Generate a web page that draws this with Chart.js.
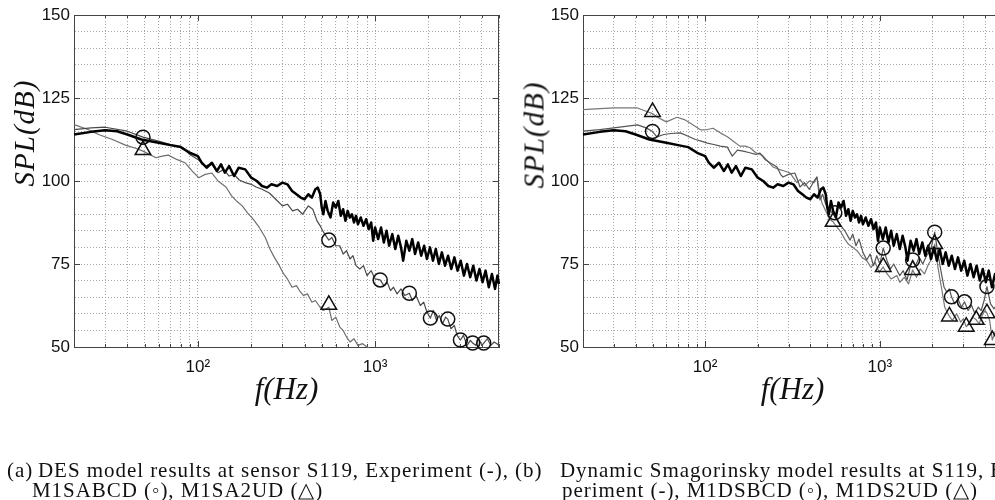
<!DOCTYPE html>
<html lang="en">
<head>
<meta charset="UTF-8">
<title>SPL spectra at sensor S119</title>
<script src="https://cdn.jsdelivr.net/npm/chart.js"></script>
<style>
    body { margin: 0; background: #fff; }
    #page { position: relative; width: 995px; height: 500px; overflow: hidden; background: #fff; }
    canvas { position: absolute; top: 0; }
    .ytitle {
        position: absolute;
        font-family: "Liberation Serif", serif;
        font-style: italic;
        font-size: 29px;
        letter-spacing: 1px;
        color: #111;
        white-space: nowrap;
        transform: translate(-50%, -50%) rotate(-90deg);
    }
    .cap {
        position: absolute;
        font-family: "Liberation Serif", serif;
        font-size: 21px;
        line-height: 20px;
        letter-spacing: 0.95px;
        color: #111;
        white-space: nowrap;
    }
</style>
</head>
<body>
<div id="page">
    <canvas id="chartA" width="510" height="420" style="left:0"></canvas>
    <canvas id="chartB" width="520" height="420" style="left:505px"></canvas>

    <div class="ytitle" style="left:24px; top:133px">SPL(dB)</div>
    <div class="ytitle" style="left:534px; top:135px">SPL(dB)</div>

    <div class="cap" style="left:7px; top:460px">(a)</div>
    <div class="cap" style="left:38px; top:460px">DES model results at sensor S119, Experiment (-),</div>
    <div class="cap" style="left:32px; top:480px">M1SABCD (◦), M1SA2UD (△)</div>

    <div class="cap" style="left:515px; top:460px">(b)</div>
    <div class="cap" style="left:560px; top:460px">Dynamic Smagorinsky model results at S119, Ex-</div>
    <div class="cap" style="right:17px; top:480px">periment (-), M1DSBCD (◦), M1DS2UD (△)</div>
</div>

<script>
    // axis ticks
    var xGridFreqs = [20, 30, 40, 50, 60, 70, 80, 90, 100, 200, 300, 400, 500, 600, 700, 800, 900, 1000, 2000, 3000, 4000, 5000];
    var xLabels = { 100: '10²', 1000: '10³' };
    var yLabelValues = [50, 75, 100, 125, 150];

    // [frequency Hz, SPL dB]
    var experiment = [
        [20, 114.0], [25, 114.8], [30, 115.3], [35, 115.0], [40, 114.0], [48, 112.5], [60, 111.5], [70, 110.8],
        [80, 110.2], [90, 108.5], [100, 107.5], [105, 105.5], [112, 104.0], [120, 105.5], [128, 103.0], [135, 105.0],
        [142, 102.5], [150, 104.5], [160, 101.5], [170, 104.0], [185, 103.5], [200, 101.0], [215, 100.0], [230, 98.5],
        [245, 98.0], [260, 99.0], [280, 98.5], [300, 99.5], [320, 99.0], [340, 97.0], [360, 96.0], [380, 95.0],
        [400, 94.5], [420, 96.0], [440, 95.0], [460, 97.5], [475, 98.0], [490, 96.0], [500, 92.0], [510, 90.0],
        [525, 94.0], [540, 91.0], [560, 89.0], [580, 93.5], [600, 92.0], [620, 94.0], [640, 89.5], [660, 91.5],
        [680, 88.0], [700, 91.0], [720, 89.0], [740, 90.0], [760, 87.5], [780, 89.5], [800, 87.0], [830, 89.0],
        [860, 86.5], [890, 88.5], [920, 85.5], [950, 87.5], [975, 82.0], [1000, 86.0], [1040, 82.5], [1080, 86.0],
        [1120, 81.5], [1160, 85.0], [1200, 80.5], [1250, 84.0], [1300, 79.5], [1350, 83.5], [1400, 80.0], [1440, 76.0],
        [1500, 82.0], [1560, 79.0], [1620, 82.5], [1680, 78.0], [1750, 81.5], [1820, 77.5], [1890, 80.5], [1960, 76.5],
        [2040, 80.0], [2120, 76.0], [2200, 79.5], [2290, 75.0], [2380, 78.5], [2480, 74.5], [2580, 77.5], [2690, 73.5],
        [2800, 77.0], [2920, 73.0], [3040, 76.0], [3170, 71.5], [3300, 75.0], [3440, 71.0], [3580, 74.5], [3730, 70.0],
        [3880, 73.5], [4040, 69.5], [4200, 73.0], [4380, 68.0], [4560, 72.0], [4750, 67.5], [4900, 71.5], [5000, 69.0]
    ];

    var m1sabcd = [
        [20, 115.5], [25, 116.0], [30, 116.2], [40, 115.0], [49, 113.2], [60, 112.0], [70, 111.0], [80, 110.5],
        [90, 108.0], [100, 106.5], [110, 104.5], [120, 105.0], [130, 102.5], [140, 103.5], [150, 101.5], [160, 102.0],
        [171, 100.3], [185, 99.5], [200, 99.0], [213, 98.2], [230, 97.5], [253, 96.4], [275, 94.5], [300, 92.5],
        [320, 93.0], [342, 91.0], [365, 91.5], [390, 90.0], [420, 92.5], [445, 91.5], [470, 88.0], [490, 86.5],
        [506, 85.0], [520, 84.0], [548, 82.2], [570, 83.0], [600, 80.5], [632, 80.5], [660, 78.0], [690, 79.0],
        [722, 76.5], [750, 77.5], [780, 74.5], [820, 73.5], [860, 74.5], [900, 71.5], [950, 73.0], [1000, 70.5],
        [1068, 70.2], [1120, 68.5], [1170, 69.5], [1220, 67.0], [1270, 68.0], [1330, 66.0], [1400, 67.5], [1470, 65.5],
        [1560, 66.2], [1620, 64.0], [1700, 65.5], [1800, 62.5], [1880, 63.5], [1960, 60.5], [2050, 58.7], [2130, 61.0],
        [2220, 58.0], [2300, 59.5], [2400, 57.0], [2500, 59.0], [2570, 58.4], [2680, 55.5], [2800, 56.5], [2900, 53.5],
        [3030, 52.1], [3150, 53.5], [3300, 50.5], [3450, 52.0], [3550, 51.2], [3700, 50.5], [3850, 52.5], [4000, 50.5],
        [4100, 51.2], [4300, 52.5], [4500, 50.5], [4700, 51.5], [5000, 50.5]
    ];
    var m1sabcdMarks = [[49, 113.2], [548, 82.2], [1068, 70.2], [1560, 66.2], [2050, 58.7], [2570, 58.4], [3030, 52.1], [3550, 51.2], [4100, 51.2]];

    var m1sa2ud = [
        [20, 117.0], [24, 115.5], [27.5, 114.0], [33, 112.5], [39, 110.8], [45, 109.8], [49, 109.0], [58, 107.0],
        [63, 107.5], [68, 107.8], [76, 106.5], [85, 105.4], [93, 103.0], [101, 101.0], [110, 102.0], [120, 102.4],
        [130, 100.0], [144, 98.2], [155, 95.5], [165, 94.0], [178, 92.5], [190, 90.5], [205, 88.5], [222, 86.0],
        [240, 83.0], [255, 79.5], [270, 77.0], [288, 74.5], [305, 72.0], [320, 70.5], [340, 68.0], [360, 68.5],
        [374, 67.0], [395, 65.5], [415, 66.0], [440, 63.5], [460, 64.0], [486, 62.2], [510, 61.0], [548, 62.0],
        [570, 58.0], [600, 59.0], [632, 56.0], [660, 55.0], [690, 53.0], [722, 51.5], [760, 52.5], [800, 50.5],
        [850, 51.0], [900, 50.0], [950, 49.0]
    ];
    var m1sa2udMarks = [[49, 109.3], [548, 62.7]];

    var m1dsbcd = [
        [20, 115.0], [25, 115.5], [30, 116.0], [36, 116.5], [41, 116.9], [46, 116.0], [50, 114.9], [53, 113.3],
        [58, 114.0], [64, 114.3], [72, 114.5], [80, 113.5], [88, 112.5], [95, 112.0], [103, 111.4], [112, 111.0],
        [122, 110.5], [134, 110.2], [143, 107.5], [153, 109.3], [165, 109.0], [180, 108.5], [195, 108.0], [206, 108.4],
        [220, 106.5], [235, 105.5], [258, 104.2], [270, 102.0], [279, 101.2], [300, 102.0], [326, 102.4], [340, 100.0],
        [349, 98.2], [370, 99.5], [395, 97.5], [420, 100.0], [436, 101.2], [454, 94.3], [470, 96.0], [490, 93.0],
        [510, 92.0], [530, 90.5], [552, 90.4], [575, 88.0], [600, 86.5], [630, 85.0], [675, 82.2], [700, 84.0],
        [730, 80.5], [760, 82.5], [800, 78.5], [841, 76.2], [880, 78.0], [920, 74.5], [960, 77.5], [1000, 75.0],
        [1045, 79.8], [1100, 76.0], [1150, 73.5], [1200, 75.0], [1250, 73.2], [1300, 71.5], [1360, 73.0], [1430, 70.2],
        [1490, 74.0], [1540, 76.2], [1600, 74.5], [1680, 77.0], [1760, 75.0], [1850, 77.5], [1950, 79.0], [2060, 84.6],
        [2150, 78.0], [2250, 72.2], [2330, 68.0], [2420, 66.5], [2500, 67.5], [2570, 65.1], [2680, 63.0], [2800, 64.5],
        [2930, 62.0], [3050, 63.6], [3200, 61.0], [3350, 62.5], [3500, 60.0], [3650, 62.0], [3800, 61.0], [3950, 64.0],
        [4100, 68.2], [4300, 63.0], [4500, 61.5], [4700, 63.0], [5000, 62.0]
    ];
    var m1dsbcdMarks = [[50, 114.9], [552, 90.4], [1045, 79.8], [1540, 76.2], [2060, 84.6], [2570, 65.1], [3050, 63.6], [4100, 68.2]];

    var m1ds2ud = [
        [20, 121.5], [25, 121.8], [30, 122.0], [36, 122.0], [41, 122.0], [46, 121.0], [50, 120.3], [53, 119.3],
        [60, 117.8], [69, 119.2], [76, 118.5], [82, 117.5], [94, 115.4], [103, 115.5], [111, 115.9], [122, 114.5],
        [134, 113.3], [145, 112.0], [158, 110.5], [170, 110.5], [181, 110.0], [195, 108.5], [212, 107.8], [228, 106.0],
        [245, 104.2], [265, 103.5], [285, 103.0], [306, 102.4], [320, 101.0], [335, 99.5], [350, 100.5], [370, 98.5],
        [395, 100.0], [420, 99.5], [436, 101.2], [450, 97.0], [466, 93.4], [490, 91.0], [515, 88.5], [540, 87.7],
        [570, 86.0], [600, 84.5], [630, 82.5], [660, 81.0], [700, 80.0], [740, 79.0], [790, 77.0], [841, 76.0],
        [890, 74.0], [940, 75.5], [990, 72.5], [1045, 74.1], [1100, 72.0], [1160, 70.5], [1250, 71.5], [1300, 69.5],
        [1380, 71.0], [1460, 69.0], [1540, 73.2], [1620, 71.0], [1700, 73.5], [1800, 72.0], [1900, 75.0], [1980, 76.5],
        [2060, 81.0], [2150, 74.0], [2250, 68.0], [2350, 62.0], [2500, 59.2], [2600, 58.0], [2750, 60.0], [2900, 57.5],
        [3000, 58.5], [3120, 56.1], [3250, 57.0], [3400, 59.0], [3560, 58.2], [3700, 57.0], [3850, 59.5], [4000, 61.0],
        [4100, 60.2], [4250, 58.0], [4400, 52.1], [4600, 55.0], [4800, 53.5], [5000, 54.5]
    ];
    var m1ds2udMarks = [[50, 120.8], [540, 87.7], [1045, 74.1], [1540, 73.2], [2060, 81.0], [2500, 59.2], [3120, 56.1], [3560, 58.2], [4100, 60.2], [4400, 52.1]];

    function toPoints(pairs) {
        return pairs.map(function (p) { return { x: p[0], y: p[1] }; });
    }

    function lineSet(label, pairs, color, width) {
        return {
            label: label,
            data: toPoints(pairs),
            borderColor: color,
            borderWidth: width,
            pointRadius: 0,
            fill: false,
            tension: 0,
            borderJoinStyle: 'round',
            clip: 1
        };
    }

    function markSet(label, pairs, style, radius) {
        return {
            label: label,
            data: toPoints(pairs),
            showLine: false,
            pointStyle: style,
            pointRadius: radius,
            pointBorderColor: '#111',
            pointBorderWidth: 1.5,
            pointBackgroundColor: 'rgba(0,0,0,0)',
            clip: false
        };
    }

    // full box with small inward ticks, like the matlab axes
    var frameBox = {
        id: 'frameBox',
        beforeDatasetsDraw: function (chart) {
            var ctx = chart.ctx, a = chart.chartArea;
            var xs = chart.scales.x, ys = chart.scales.y;
            ctx.save();
            ctx.strokeStyle = '#444';
            ctx.lineWidth = 1;
            ctx.strokeRect(a.left + 0.5, a.top + 0.5, a.right - a.left - 1, a.bottom - a.top);
            ctx.beginPath();
            xGridFreqs.forEach(function (v) {
                var px = Math.round(xs.getPixelForValue(v)) + 0.5;
                var len = xLabels[v] ? 6 : 3;
                ctx.moveTo(px, a.bottom); ctx.lineTo(px, a.bottom - len);
                ctx.moveTo(px, a.top); ctx.lineTo(px, a.top + len);
            });
            yLabelValues.forEach(function (v) {
                var py = Math.round(ys.getPixelForValue(v)) + 0.5;
                ctx.moveTo(a.left, py); ctx.lineTo(a.left + 6, py);
                ctx.moveTo(a.right, py); ctx.lineTo(a.right - 6, py);
            });
            ctx.stroke();
            ctx.restore();
        }
    };

    function makeChart(id, yWidth, padRight, datasets) {
        var ctx = document.getElementById(id).getContext('2d');
        return new Chart(ctx, {
            type: 'line',
            data: { datasets: datasets },
            plugins: [frameBox],
            options: {
                responsive: false,
                animation: false,
                layout: { padding: { top: 15, right: padRight, left: 0, bottom: 0 } },
                plugins: { legend: { display: false }, tooltip: { enabled: false } },
                scales: {
                    x: {
                        type: 'logarithmic',
                        min: 20,
                        max: 5000,
                        afterBuildTicks: function (scale) {
                            scale.ticks = xGridFreqs.map(function (v) { return { value: v }; });
                        },
                        afterFit: function (scale) { scale.height = 73; },
                        ticks: {
                            autoSkip: false,
                            maxRotation: 0,
                            padding: 10,
                            color: '#111',
                            font: { family: 'Liberation Sans', size: 17 },
                            callback: function (v) { return xLabels[v] || ''; }
                        },
                        grid: { color: '#a8a8a8', lineWidth: 1, drawTicks: false },
                        border: { display: true, color: '#444', dash: [1, 2] },
                        title: {
                            display: true,
                            text: 'f(Hz)',
                            color: '#111',
                            font: { family: 'Liberation Serif', style: 'italic', size: 31 },
                            padding: { top: 0, bottom: 11 }
                        }
                    },
                    y: {
                        min: 50,
                        max: 150,
                        afterFit: function (scale) { scale.width = yWidth; },
                        ticks: {
                            stepSize: 5,
                            autoSkip: false,
                            padding: 4,
                            color: '#111',
                            font: { family: 'Liberation Sans', size: 17 },
                            callback: function (v) { return yLabelValues.indexOf(v) >= 0 ? v : ''; }
                        },
                        grid: { color: '#a8a8a8', lineWidth: 1, drawTicks: false },
                        border: { display: true, color: '#444', dash: [1, 2] }
                    }
                }
            }
        });
    }

    // (a) DES model
    makeChart('chartA', 74, 11, [
        markSet('M1SABCD', m1sabcdMarks, 'circle', 7),
        markSet('M1SA2UD', m1sa2udMarks, 'triangle', 9),
        lineSet('Experiment', experiment, '#000', 2.5),
        lineSet('M1SABCD', m1sabcd, '#4a4a4a', 1.2),
        lineSet('M1SA2UD', m1sa2ud, '#6e6e6e', 1.2)
    ]);

    // (b) Dynamic Smagorinsky model
    makeChart('chartB', 78, 23, [
        markSet('M1DSBCD', m1dsbcdMarks, 'circle', 7),
        markSet('M1DS2UD', m1ds2udMarks, 'triangle', 9),
        lineSet('Experiment', experiment, '#000', 2.5),
        lineSet('M1DSBCD', m1dsbcd, '#555', 1.2),
        lineSet('M1DS2UD', m1ds2ud, '#777', 1.2)
    ]);
</script>
</body>
</html>
